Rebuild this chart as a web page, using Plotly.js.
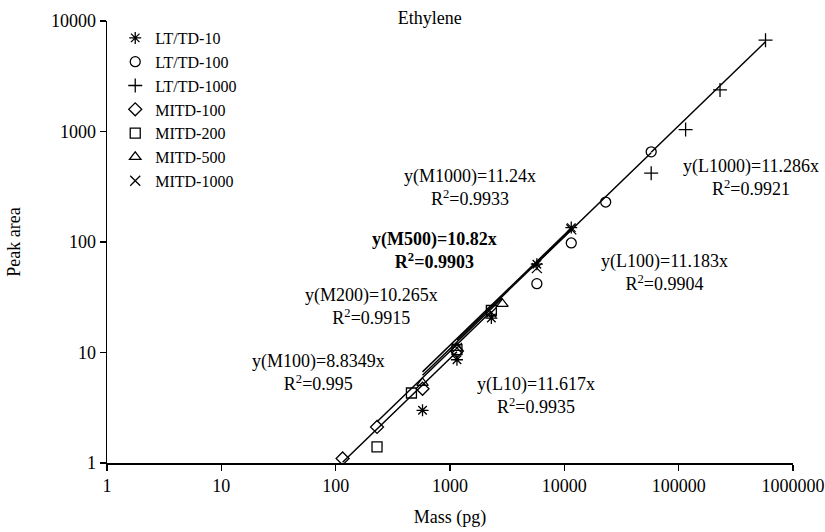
<!DOCTYPE html>
<html>
<head>
<meta charset="utf-8">
<script src="https://cdn.plot.ly/plotly-3.0.1.min.js"></script>
<style>html,body{margin:0;padding:0;background:#fff;}#chart{width:825px;height:532px;}</style>
</head>
<body>
<div id="chart"></div>
<script>
// ---- data (mass in pg, peak area) ----
const lt10X = [575, 1150, 2300, 5750, 11500];
const lt10Y = [3.0, 8.6, 20.5, 63, 135];
const lt100X = [5750, 11500, 23000, 57500];
const lt100Y = [42, 98, 230, 655];
const lt1000X = [57500, 115000, 230000, 575000];
const lt1000Y = [420, 1040, 2380, 6700];
const m100X = [115, 230, 575, 1150];
const m100Y = [1.1, 2.12, 4.7, 10.3];
const m200X = [230, 460, 1150, 2300];
const m200Y = [1.4, 4.3, 10.6, 24];
const m500X = [575, 1150, 2875];
const m500Y = [5.3, 11, 27.5];
const m1000X = [1150, 2300, 5750, 11500];
const m1000Y = [11, 23, 58, 130];

const seriesNames = ["LT/TD-10", "LT/TD-100", "LT/TD-1000", "MITD-100", "MITD-200", "MITD-500", "MITD-1000"];
const seriesSymbols = ["asterisk-open", "circle-open", "cross-thin-open", "diamond-open", "square-open", "triangle-up-open", "x-thin-open"];
// fitted slopes (peak area per ng)
const slopes = [11.617, 11.183, 11.286, 8.8349, 10.265, 10.82, 11.24];
const eqLabels = ["y(L10)=11.617x", "y(L100)=11.183x", "y(L1000)=11.286x", "y(M100)=8.8349x", "y(M200)=10.265x", "y(M500)=10.82x", "y(M1000)=11.24x"];
const r2Labels = ["R<sup>2</sup>=0.9935", "R<sup>2</sup>=0.9904", "R<sup>2</sup>=0.9921", "R<sup>2</sup>=0.995", "R<sup>2</sup>=0.9915", "R<sup>2</sup>=0.9903", "R<sup>2</sup>=0.9933"];

const xTicks = [1, 10, 100, 1000, 10000, 100000, 1000000];
const xTickText = ["1", "10", "100", "1000", "10000", "100000", "1000000"];
const yTicks = [1, 10, 100, 1000, 10000];
const yTickText = ["1", "10", "100", "1000", "10000"];

const xs = [lt10X, lt100X, lt1000X, m100X, m200X, m500X, m1000X];
const ys = [lt10Y, lt100Y, lt1000Y, m100Y, m200Y, m500Y, m1000Y];

const FONT = "Liberation Serif";
const traces = [];
// trend lines over each series' mass range
for (let i = 0; i < xs.length; i++) {
  const x0 = Math.min(...xs[i]), x1 = Math.max(...xs[i]);
  traces.push({
    x: [x0, x1], y: [slopes[i] * x0 / 1000, slopes[i] * x1 / 1000],
    mode: "lines", line: {color: "black", width: 1.5},
    showlegend: false, hoverinfo: "skip"
  });
}
for (let i = 0; i < xs.length; i++) {
  traces.push({
    x: xs[i], y: ys[i], name: seriesNames[i], mode: "markers",
    marker: {symbol: seriesSymbols[i], size: 10, color: "black", line: {color: "black", width: 1.3}}
  });
}

// annotation centre placement (paper coordinates) per series
const annX = [0.625, 0.813, 0.939, 0.309, 0.385, 0.478, 0.529];
const annY = [0.152, 0.430, 0.647, 0.204, 0.353, 0.480, 0.624];
const annotations = [];
for (let i = 0; i < eqLabels.length; i++) {
  const bold = (i === 5);
  const txt = eqLabels[i] + "<br>" + r2Labels[i];
  annotations.push({xref: "paper", yref: "paper", x: annX[i], y: annY[i], xanchor: "center", yanchor: "middle",
    align: "center", text: bold ? "<b>" + txt + "</b>" : txt, showarrow: false,
    font: {family: FONT, size: 18, color: "black"}});
}

const layout = {
  width: 825, height: 532,
  margin: {l: 107, r: 32, t: 21, b: 69},
  paper_bgcolor: "white", plot_bgcolor: "white",
  font: {family: FONT, size: 18, color: "black"},
  title: {text: "Ethylene", x: 0.521, xanchor: "center", xref: "container", y: 0.966, yref: "container", yanchor: "middle",
    font: {family: FONT, size: 18, color: "black"}},
  xaxis: {type: "log", range: [0, 6], tickvals: xTicks, ticktext: xTickText,
    tickfont: {family: FONT, size: 18, color: "black"},
    showline: true, linecolor: "black", linewidth: 1.5, ticks: "outside", ticklen: 6, tickwidth: 1.5, tickcolor: "black",
    showgrid: false, zeroline: false,
    title: {text: "Mass (pg)", standoff: 15, font: {family: FONT, size: 18, color: "black"}}},
  yaxis: {type: "log", range: [0, 4], tickvals: yTicks, ticktext: yTickText,
    tickfont: {family: FONT, size: 18, color: "black"},
    showline: true, linecolor: "black", linewidth: 1.5, ticks: "outside", ticklen: 6, tickwidth: 1.5, tickcolor: "black",
    showgrid: false, zeroline: false,
    title: {text: "Peak area", standoff: 25, font: {family: FONT, size: 18, color: "black"}}},
  legend: {x: 0.012, y: 1.0, xanchor: "left", yanchor: "top", bgcolor: "rgba(0,0,0,0)",
    font: {family: FONT, size: 16, color: "black"}, tracegroupgap: 0, itemwidth: 30},
  annotations: annotations,
  showlegend: true
};

Plotly.newPlot("chart", traces, layout, {displayModeBar: false, staticPlot: true});
</script>
</body>
</html>
